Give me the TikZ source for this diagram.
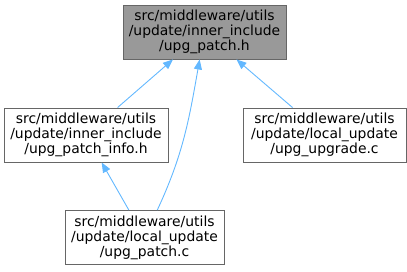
\documentclass[tikz,border=0pt]{standalone}
\usepackage{fontspec}
\setmainfont{DejaVu Sans}
\usetikzlibrary{arrows.meta}
\definecolor{doxyEdge}{HTML}{63B8FF}
\definecolor{doxyBorder}{HTML}{666666}
\definecolor{doxyFocus}{HTML}{999999}

\begin{document}
\begin{tikzpicture}[
  x=1pt,y=1pt,
  file/.style={
    draw=doxyBorder,
    line width=0.9pt,
    minimum height=54pt,
    inner sep=0pt,
    align=center,
    font=\fontsize{13.9}{15}\selectfont
  },
  dep/.style={
    draw=doxyEdge,
    line width=0.9pt,
    -{Triangle[length=10pt,width=8pt]}
  }
]
  \useasboundingbox (0,0) rectangle (407,271);

  \node[file,fill=doxyFocus,minimum width=163pt] (patchh) at (204.5,239)
    {src/middleware/utils\\/update/inner\_include\\/upg\_patch.h};
  \node[file,fill=white,minimum width=164pt] (patchinfo) at (86,136)
    {src/middleware/utils\\/update/inner\_include\\/upg\_patch\_info.h};
  \node[file,fill=white,minimum width=163pt] (upgrade) at (324.5,136)
    {src/middleware/utils\\/update/local\_update\\/upg\_upgrade.c};
  \node[file,fill=white,minimum width=159pt] (patchc) at (144.5,33.5)
    {src/middleware/utils\\/update/local\_update\\/upg\_patch.c};

  \draw[dep] (patchinfo) -- (patchh);
  \draw[dep] (upgrade) -- (patchh);
  \draw[dep] (patchc) to[out=65,in=-100] (patchh);
  \draw[dep] (patchc) -- (patchinfo);
\end{tikzpicture}
\end{document}
